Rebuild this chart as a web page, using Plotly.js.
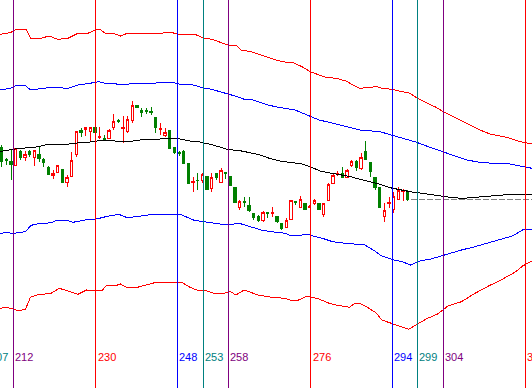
<!DOCTYPE html>
<html><head><meta charset="utf-8">
<script src="https://cdn.plot.ly/plotly-3.0.1.min.js"></script>
<style>html,body{margin:0;padding:0;background:#fff;}#chart{width:532px;height:388px;}
#chart path{shape-rendering:crispEdges;}</style>
</head><body><div id="chart"></div>
<script>
// Candles (price units)
const opens=[240.7,228.5,227,223,237,230.7,237,230.7,233.7,228.7,
220.7,212.7,216,218.7,205.3,211.3,233.7,257.3,259,256.3,
260.7,250.7,249.7,249.7,260.3,268,259.7,256.3,267.3,283,
278,278,277,270.7,258.7,252.3,257.3,240.7,235.7,236.3,
224.7,205.7,208,208,212,199.7,214.7,206,215.7,212,
200.7,180.7,186.3,183,174.7,171.3,167.3,175.3,175,172,
164.7,160.7,168.7,186.3,180.7,184.7,181,184.7,184.7,174,
188,204.7,214,214.7,210.7,223,227,219.7,236.3,225.7,
210.7,200.3,171.3,184.7,179,188.7,196.3,197];
const highs=[243,230,238,239.7,238,237.3,238,238,242,229.7,
222,218,223.3,219.3,213,236.3,257.3,259.7,260.7,260.7,
262,261.3,253,258.7,274,269,272,272,287.3,283,
279.7,279.7,281.3,270.7,264.7,259.7,258,241.3,237,238,
224.7,210.7,214.7,214.7,212,215.3,214.7,219.7,215.7,212,
201.3,188,191.3,190.7,175.3,173,177.3,176.3,180.7,172,
164.7,169.7,188,186.3,192,184.7,183,188.7,185.3,185.3,
204.7,214.7,217.3,220.7,218.7,228,228,234.7,247.3,225.7,
210.7,200.3,184.7,191.3,195.7,201.3,199,198];
const lows=[221.3,223,208,222,228,227.3,231.3,222,226.3,220.7,
213,208.7,215.3,204.7,201.3,210.7,231.3,251.3,252,246.3,
252,248.7,248,248.7,258,264.7,245.3,254.7,264.7,279.7,
271.3,274,273,255.3,253,251.3,238.7,234,232,223.7,
204,196.3,198,204.7,198,196.3,208,205.3,208.7,202,
184.7,178,181.3,176.3,168,166.3,166.3,169.7,170.7,165.3,
158,159.7,168,183,179.7,178,180,183,178,170.7,
187.3,204,212,209.7,209.7,221.3,217,218,228,211.3,
198,179.7,166.3,179.7,174.7,188,187,187.3];
const closes=[226.3,227.5,224,239.7,230.3,233.7,234,238,229.7,225.3,
214,214.7,222.7,205.3,210.7,227.3,256.3,255.7,260.3,260.7,
255.3,251.3,249,258,267,267,260.7,268.7,282.3,280.7,
275.3,276.7,276,260.7,259.7,255.7,239.7,235.3,234.7,224.7,
204.7,206.3,207.3,214,198.7,210.7,210.7,218,214.7,203,
185.3,186.3,185.7,177.3,170.3,168,175.3,174.3,175.7,166.3,
159.7,168,188,185.3,188.7,179,182,187.3,178.7,184.7,
204,213,214.7,210.7,218,227,220.7,230.7,229,217,
200.3,180.3,178,185.7,191.3,198,197.3,189];

// Moving average (bar position, value)
const maX=[-0.36,1.35,2.85,4.99,7.14,9.28,13.56,16.78,18.92,21.06,25.35,27.49,29.63,32.85,36.06,38.21,40.35,42.49,45.28,48.49,51.06,53.2,55.35,57.49,59.63,61.78,63.92,66.06,68.2,70.35,72.49,74.63,76.78,78.92,81.06,83.2,85.35,87.49,89.63,91.78,93.92,96.7,98.85,101.42,104.63,107.42,109.56,113.63];
const maY=[236.5,238,239,240,240.7,243,243.5,245.3,246,247.5,247.3,246.5,248,249,249.5,249,247,246,243,238.5,237.3,235.3,233,229.5,227,225.5,224.5,221.5,217,215,213.5,211.5,208.7,206.3,203.7,200.3,198,196.3,195,193.5,191.7,190.3,189.7,190.7,191.5,192.3,193.8,194];

// Outer upper band (red)
const upRedX=[-0.36,1.82,2.91,5.31,6.17,8.36,10.18,12.0,14.18,16.35,18.49,19.99,21.06,22.18,24.28,25.46,26.89,30.17,33.45,35.27,37.43,38.16,39.62,41.44,43.26,45.06,46.9,48.49,50.16,51.27,53.42,55.62,57.81,59.27,61.07,62.52,64.35,66.17,67.99,69.42,71.63,73.77,75.62,76.71,78.9,80.35,81.42,83.63,85.79,87.25,89.07,91.26,93.06,94.88,97.06,100.34,102.49,104.63,108.21,111.06,113.63];
const upRedY=[353.7,355.3,358,358.3,349.7,349.7,352,348.7,349.7,354.7,354.7,358,358.7,354.7,354,352,354.7,354.7,354,355.7,354.7,353,353.7,353.7,349.7,348.7,345.3,343,343,338,336.3,333,329.7,327.3,325.7,325.3,321.3,316.3,313,310.7,309.7,307,302,299.7,300.7,301.3,299.7,298.7,296.3,295.3,289.7,284.7,280.7,275.7,270.7,263,258,254,250.7,246.3,244];

// Inner upper band (blue)
const upBlueX=[-0.36,1.82,2.91,5.1,6.17,8.36,10.54,14.18,16.35,18.92,20.72,22.18,24.28,25.09,26.89,28.71,31.63,33.81,36.7,38.16,40.35,41.8,43.26,44.72,46.9,49.07,50.53,51.98,53.42,54.9,57.06,59.27,61.43,62.89,65.07,66.53,67.99,69.64,72.49,74.63,76.78,81.06,83.57,86.05,88.92,91.77,94.62,96.76,99.64,102.49,105.34,108.21,111.06,113.63];
const upBlueY=[298,299.7,302.3,302.3,298,299.7,300.7,299.7,303,304.7,306.3,304.7,304.7,303,304,304.7,304.7,305.3,305.7,303.7,303.7,302,299.7,299,296.3,293,291.3,288.7,288.7,286.3,283,280.7,279,278,273.7,270.7,268,266.3,263,261,258,256.3,253,249.7,245.7,240.7,236.3,233,228,225.7,224.7,224.7,222,219.7];

// Inner lower band (blue)
const loBlueX=[-0.36,1.09,2.55,5.08,6.17,6.9,10.54,11.63,14.18,15.28,17.81,19.99,21.45,22.91,25.09,26.89,28.71,30.9,33.08,38.16,39.28,41.08,43.26,45.45,48.36,50.89,53.44,55.62,57.81,60.7,62.16,63.62,65.44,66.53,68.72,70.88,72.34,75.98,77.8,79.62,81.42,83.97,85.79,87.61,89.8,91.99,94.15,96.34,98.52,101.42,104.33,107.25,109.43,111.62,113.63];
const loBlueY=[154.7,155.3,154.7,156.3,162,163.7,165.3,167.3,167.3,165.7,168,168.7,170.3,172,173.7,170.3,171.3,173,174,174,172,168,166.3,164.7,163,164.7,161.3,158,156.3,154.7,152,152.3,154,152.3,149.7,146.3,145.3,144,143,138,132,128,126.3,123,127.3,129,132,135.3,138,141.3,145.3,148.7,152,158,158.7];

// Outer lower band (red)
const loRedX=[-0.36,1.09,2.55,3.64,5.08,6.17,7.63,10.54,12.36,14.18,16.35,18.17,21.45,22.54,24.36,25.46,26.89,29.08,30.9,33.08,37.43,38.53,40.35,41.8,43.26,45.45,47.63,49.07,50.16,51.98,54.9,57.81,60.7,62.16,63.62,65.44,67.99,70.17,71.61,74.52,75.62,76.71,78.17,80.35,81.42,83.24,84.7,87.25,89.07,91.26,93.42,95.61,98.52,101.42,104.33,107.25,110.17,111.62,113.63];
const loRedY=[79.7,80.7,78.7,77.3,78.7,90.7,93,94.7,99.7,97,93.7,98,97.3,103,102.3,104,100.3,100.7,103,105.7,105.3,105.7,100.7,98,98,94.7,94.7,96.3,93,98,93,90.7,89.7,87.3,88,92,89,84.7,83,80.7,84.7,84.7,81.3,74.7,68,65.3,63,58.7,64,69.7,74,82,86.3,94.7,102,108.7,116.3,122,127];

// Time-cycle lines
const cycleLabels=['207','212','230','248','253','258','276','294','299','304','322'];
const cyclePos=[-2.87,2.49,20.14,37.63,43.2,48.55,66.2,83.7,89.07,94.63,112.2];
const cycleColors=['#008080','#800080','#ff0000','#0000ff','#008080','#800080','#ff0000','#0000ff','#008080','#800080','#ff0000'];

const xMin=-0.364, xMax=113.63;
const idx=opens.map((_,i)=>i);
const lastClose=closes[closes.length-1];

const traces=[
  {type:'scatter',mode:'lines',x:upRedX,y:upRedY,line:{color:'#ff0000',width:1},hoverinfo:'skip'},
  {type:'scatter',mode:'lines',x:upBlueX,y:upBlueY,line:{color:'#0000ff',width:1},hoverinfo:'skip'},
  {type:'scatter',mode:'lines',x:loBlueX,y:loBlueY,line:{color:'#0000ff',width:1},hoverinfo:'skip'},
  {type:'scatter',mode:'lines',x:loRedX,y:loRedY,line:{color:'#ff0000',width:1},hoverinfo:'skip'},
  {type:'scatter',mode:'lines',x:[idx.length-1+0.65,xMax],y:[lastClose,lastClose],line:{color:'#808080',width:1,dash:'6px,2px'},hoverinfo:'skip'},
  {type:'candlestick',x:idx,open:opens,high:highs,low:lows,close:closes,whiskerwidth:0,
   increasing:{line:{color:'#ff0000',width:1},fillcolor:'#ffffff'},
   decreasing:{line:{color:'#008000',width:1},fillcolor:'#008000'},hoverinfo:'skip'},
  {type:'scatter',mode:'lines',x:maX,y:maY,line:{color:'#000000',width:1},hoverinfo:'skip'}
];

const shapes=cyclePos.map((p,i)=>({type:'line',xref:'x',yref:'paper',x0:p,x1:p,y0:0,y1:1,layer:'above',line:{color:cycleColors[i],width:1}}));
const annotations=cyclePos.map((p,i)=>({xref:'paper',yref:'paper',x:(p-xMin)/(xMax-xMin),y:0.0807,xanchor:'left',yanchor:'middle',showarrow:false,text:cycleLabels[i],font:{family:'Liberation Sans, Arial, sans-serif',size:11,color:cycleColors[i]}}));

const layout={width:532,height:388,margin:{l:0,r:0,t:0,b:0},paper_bgcolor:'#ffffff',plot_bgcolor:'#ffffff',
  showlegend:false,hovermode:false,boxgap:0.3,
  xaxis:{range:[xMin,xMax],visible:false,rangeslider:{visible:false},fixedrange:true},
  yaxis:{range:[0,388],visible:false,fixedrange:true},
  shapes:shapes,annotations:annotations};
Plotly.newPlot('chart',traces,layout,{staticPlot:true});
</script></body></html>
